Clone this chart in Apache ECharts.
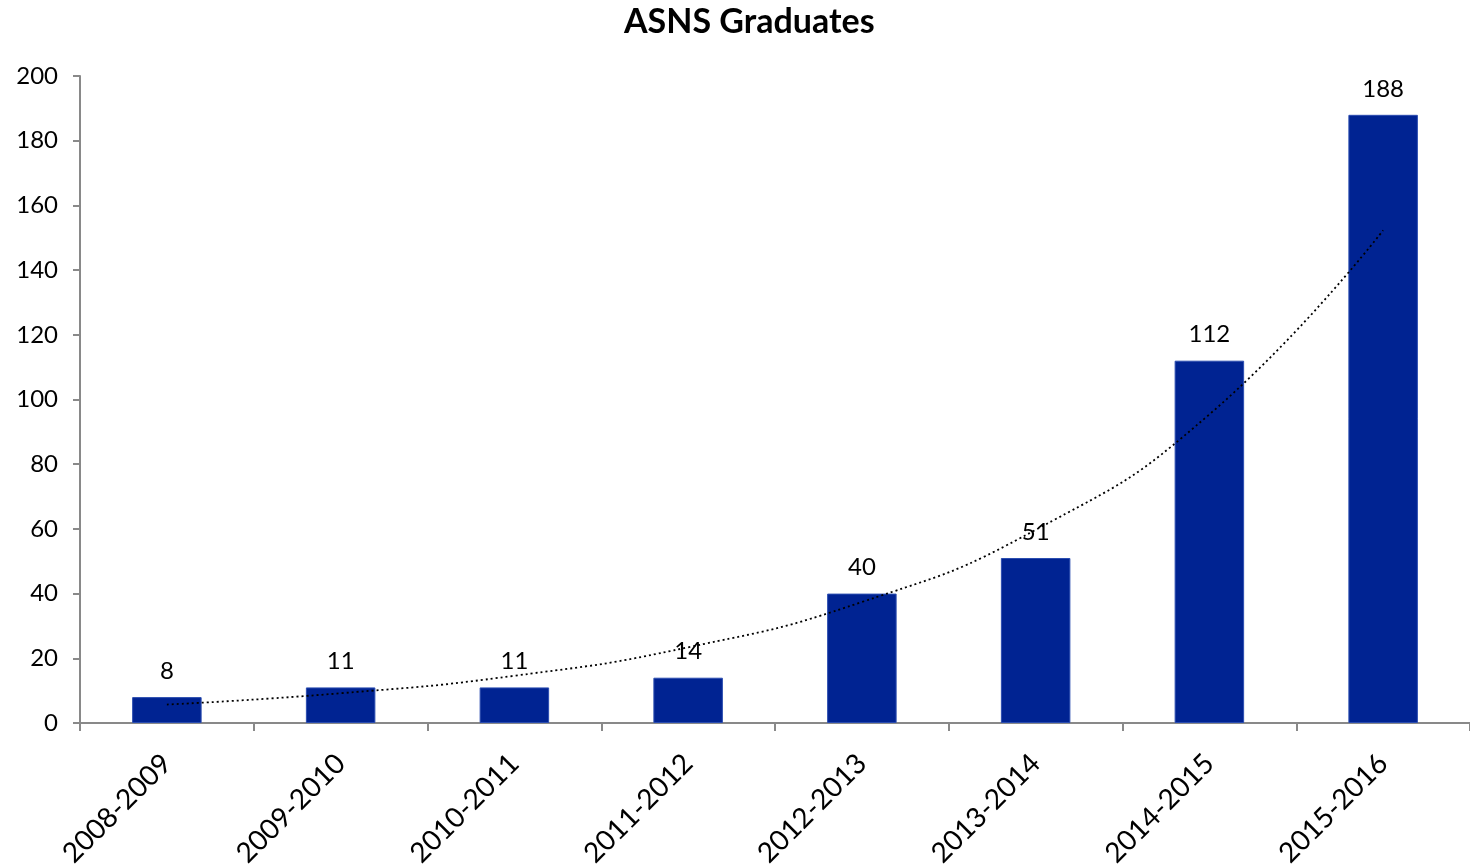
<!DOCTYPE html>
<html>
<head>
<meta charset="utf-8">
<title>ASNS Graduates</title>
<script src="https://cdn.jsdelivr.net/npm/echarts@6/dist/echarts.min.js"></script>
<style>
  html, body { margin: 0; padding: 0; background: #ffffff; }
  #chart { width: 1470px; height: 864px; }
</style>
</head>
<body>
<div id="chart"></div>
<script>
// Academic years on the category axis
const years = ['2008-2009', '2009-2010', '2010-2011', '2011-2012',
               '2012-2013', '2013-2014', '2014-2015', '2015-2016'];
// Graduates per year
const graduates = [8, 11, 11, 14, 40, 51, 112, 188];
// Exponential trend line values at each year
const trend = [5.7, 9.2, 14.6, 23.4, 37.4, 59.7, 95.4, 152.3];

const FONT = 'Lato, "Open Sans", sans-serif';

const chart = echarts.init(document.getElementById('chart'), null, { renderer: 'canvas' });

chart.setOption({
  animation: false,
  backgroundColor: '#ffffff',
  title: {
    text: 'ASNS Graduates',
    left: 619,
    top: 0,
    textStyle: { fontFamily: FONT, fontSize: 34, fontWeight: 'bold', color: '#000000' }
  },
  grid: { left: 80, right: 0, top: 76, bottom: 141, containLabel: false, outerBoundsMode: 'none' },
  xAxis: {
    type: 'category',
    data: years,
    boundaryGap: true,
    axisLine: { lineStyle: { color: '#898989', width: 2 } },
    axisTick: { show: true, length: 8, alignWithLabel: false, lineStyle: { color: '#898989', width: 2 } },
    axisLabel: {
      rotate: 45,
      margin: 36,
      fontFamily: FONT,
      fontSize: 28,
      color: '#000000',
      interval: 0
    },
    splitLine: { show: false }
  },
  yAxis: {
    type: 'value',
    min: 0,
    max: 200,
    interval: 20,
    axisLine: { show: true, lineStyle: { color: '#898989', width: 2 } },
    axisTick: { show: true, length: 7, lineStyle: { color: '#898989', width: 2 } },
    axisLabel: { fontFamily: FONT, fontSize: 24, color: '#000000', margin: 22 },
    splitLine: { show: false }
  },
  series: [
    {
      name: 'Graduates',
      type: 'bar',
      data: graduates,
      barWidth: '40%',
      itemStyle: { color: '#002392', borderColor: '#2b4db0', borderWidth: 1 },
      label: {
        show: true,
        position: 'top',
        distance: 14,
        fontFamily: FONT,
        fontSize: 24,
        color: '#000000'
      },
      z: 2
    },
    {
      name: 'Trend',
      type: 'line',
      data: trend,
      smooth: true,
      symbol: 'none',
      lineStyle: { color: '#000000', width: 1.8, type: [2, 3] },
      z: 3
    }
  ]
});
</script>
</body>
</html>
